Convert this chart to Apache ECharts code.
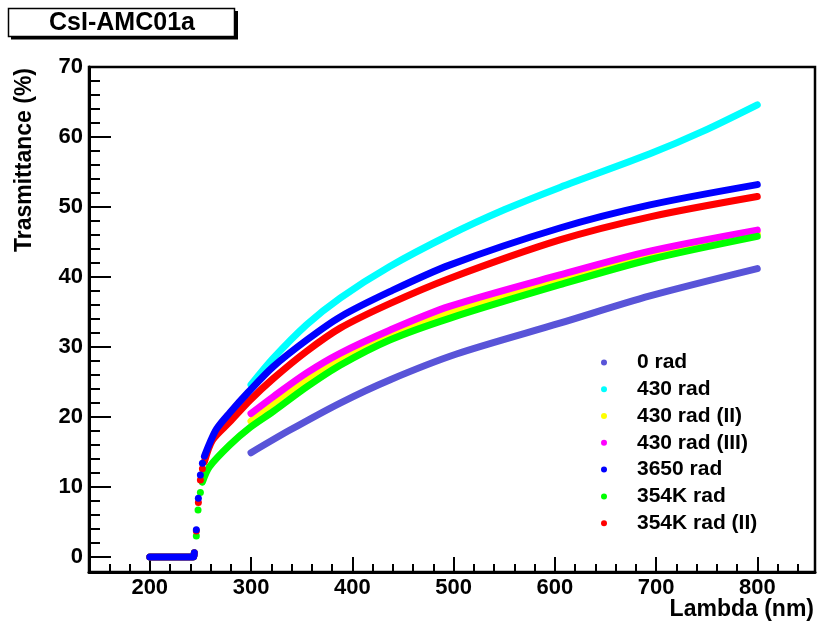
<!DOCTYPE html>
<html>
<head>
<meta charset="utf-8">
<title>CsI-AMC01a</title>
<script src="https://cdn.jsdelivr.net/npm/echarts@6/dist/echarts.min.js"></script>
<style>
  html, body { margin: 0; padding: 0; background: #fff; }
  #main { width: 819px; height: 622px; }
</style>
</head>
<body>
<div id="main"></div>
<script>
// wavelength (nm) / transmittance (%) pairs
var flatPart = [[200, 0], [215, 0], [230, 0], [243, 0], [244, 0.6]];

var rise3650 = [[246, 3.9], [248, 8.4], [250, 11.7], [252, 13.4]];
var rise354K = [[246, 3.0], [247.7, 6.7], [250, 9.2]];
var rise354K2 = [[246, 3.7], [248, 7.8], [250, 11.0], [252, 12.6]];

var rad0 = [[300, 14.9], [338, 18.1], [388, 22.0], [437, 25.3], [503, 29.0], [605, 33.4], [694, 37.3], [800, 41.2]];
var rad430 = [[300, 24.6], [322, 28.4], [355, 33.2], [388, 37.0], [437, 41.5], [496, 46.0], [550, 49.6], [605, 52.8], [694, 57.6], [746, 60.8], [800, 64.6]];
var rad430II = [[300, 19.4], [322, 22.0], [355, 25.3], [388, 28.2], [437, 31.6], [496, 35.0], [605, 39.8], [694, 43.2], [800, 46.2]];
var rad430III = [[300, 20.5], [322, 22.9], [355, 26.3], [388, 29.1], [437, 32.4], [496, 35.8], [605, 40.3], [694, 43.7], [800, 46.7]];
var rad3650 = [[254, 14.4], [259, 16.2], [266, 18.3], [279, 20.6], [297, 23.5], [322, 27.2], [355, 31.0], [388, 34.3], [437, 37.9], [496, 41.7], [605, 47.0], [694, 50.3], [800, 53.2]];
var rad354K = [[252, 10.7], [259, 12.9], [279, 16.0], [299, 18.5], [322, 20.8], [355, 24.3], [388, 27.4], [437, 31.0], [496, 34.1], [605, 38.9], [694, 42.5], [800, 45.8]];
var rad354K2 = [[254, 13.6], [262, 16.7], [279, 19.3], [299, 22.4], [322, 25.5], [355, 29.4], [388, 32.7], [437, 36.2], [496, 39.8], [605, 45.3], [694, 48.6], [800, 51.5]];

var legendNames = ['0 rad', '430 rad', '430 rad (II)', '430 rad (III)', '3650 rad', '354K rad', '354K rad (II)'];

var xMajor = [200, 300, 400, 500, 600, 700, 800];
var yMajor = [0, 10, 20, 30, 40, 50, 60, 70];

var FONT = 'Liberation Sans, Arial, Helvetica, sans-serif';

function ticks (from, to, step) {
  var out = []
  for (var v = from; v <= to; v += step) out.push(v)
  return out
}

// flat part + separate dots of the edge + the smooth curve, split by gaps
function joinParts (flat, dots, curve) {
  var data = flat.slice()
  dots.forEach(function (p) {
    data.push([p[0] - 0.5, '-'])
    data.push({ value: p, symbol: 'circle' })
  })
  data.push([curve[0][0] - 0.5, '-'])
  return data.concat(curve)
}

function curve (name, color, data) {
  return {
    name: name,
    type: 'line',
    data: data,
    smooth: 0.3,
    symbol: 'none',
    symbolSize: 7,
    connectNulls: false,
    itemStyle: { color: color },
    lineStyle: { color: color, width: 7, cap: 'round', join: 'round' },
    emphasis: { disabled: true }
  }
}

var chart = echarts.init(document.getElementById('main'))

var option = {
  animation: false,
  backgroundColor: '#fff',
  grid: {
    left: 89,
    top: 67,
    width: 726,
    height: 505,
    show: true,
    borderColor: '#000',
    borderWidth: 2.5,
    backgroundColor: '#fff'
  },
  xAxis: [{
    type: 'value',
    position: 'bottom',
    min: 140,
    max: 857,
    axisLine: { onZero: false, lineStyle: { color: '#000', width: 3 } },
    axisTick: { show: true, inside: true, length: 15, customValues: xMajor, lineStyle: { color: '#000', width: 2 } },
    axisLabel: { customValues: xMajor, color: '#000', fontSize: 22, fontWeight: 'bold', fontFamily: FONT, margin: 5 },
    splitLine: { show: false }
  }, {
    type: 'value',
    position: 'bottom',
    min: 140,
    max: 857,
    axisLine: { show: false, onZero: false },
    axisTick: { show: true, inside: true, length: 8, customValues: ticks(160, 840, 20), lineStyle: { color: '#000', width: 2 } },
    axisLabel: { show: false },
    splitLine: { show: false }
  }],
  yAxis: [{
    type: 'value',
    position: 'left',
    min: -2.14,
    max: 70,
    axisLine: { show: true, onZero: false, lineStyle: { color: '#000', width: 3 } },
    axisTick: { show: true, inside: true, length: 22, customValues: yMajor, lineStyle: { color: '#000', width: 2 } },
    axisLabel: { customValues: yMajor, color: '#000', fontSize: 22, fontWeight: 'bold', fontFamily: FONT, margin: 6 },
    splitLine: { show: false }
  }, {
    type: 'value',
    position: 'left',
    min: -2.14,
    max: 70,
    axisLine: { show: false, onZero: false },
    axisTick: { show: true, inside: true, length: 11, customValues: ticks(0, 70, 2), lineStyle: { color: '#000', width: 2 } },
    axisLabel: { show: false },
    splitLine: { show: false }
  }],
  legend: {
    data: legendNames,
    orient: 'vertical',
    left: 596,
    top: 344,
    icon: 'circle',
    itemWidth: 6,
    itemHeight: 6,
    itemGap: 0,
    selectedMode: false,
    textStyle: {
      color: '#000',
      fontSize: 21,
      fontWeight: 'bold',
      fontFamily: FONT,
      lineHeight: 26.8,
      padding: [0, 0, 0, 25]
    }
  },
  series: [
    curve('0 rad', '#5954d8', rad0),
    curve('430 rad', '#00ffff', rad430),
    curve('430 rad (II)', '#ffff00', rad430II),
    curve('430 rad (III)', '#ff00ff', rad430III),
    curve('354K rad', '#00ff00', joinParts(flatPart, rise354K, rad354K)),
    curve('354K rad (II)', '#ff0000', joinParts(flatPart, rise354K2, rad354K2)),
    curve('3650 rad', '#0000ff', joinParts(flatPart, rise3650, rad3650))
  ],
  graphic: [
    { type: 'rect', shape: { x: 11, y: 11, width: 227, height: 28.5 }, style: { fill: '#000' } },
    { type: 'rect', shape: { x: 8.5, y: 8.5, width: 226, height: 28 }, style: { fill: '#fff', stroke: '#000', lineWidth: 1.5 } },
    {
      type: 'text', x: 122, y: 23.5,
      style: { text: 'CsI-AMC01a', fill: '#000', font: 'bold 25px ' + FONT, align: 'center', verticalAlign: 'middle' }
    },
    {
      type: 'text', x: 814, y: 610,
      style: { text: 'Lambda (nm)', fill: '#000', font: 'bold 23px ' + FONT, align: 'right', verticalAlign: 'middle' }
    },
    {
      type: 'text', x: 25, y: 68, rotation: Math.PI / 2,
      style: { text: 'Trasmittance (%)', fill: '#000', font: 'bold 23px ' + FONT, align: 'right', verticalAlign: 'middle' }
    }
  ]
}

chart.setOption(option)
</script>
</body>
</html>
